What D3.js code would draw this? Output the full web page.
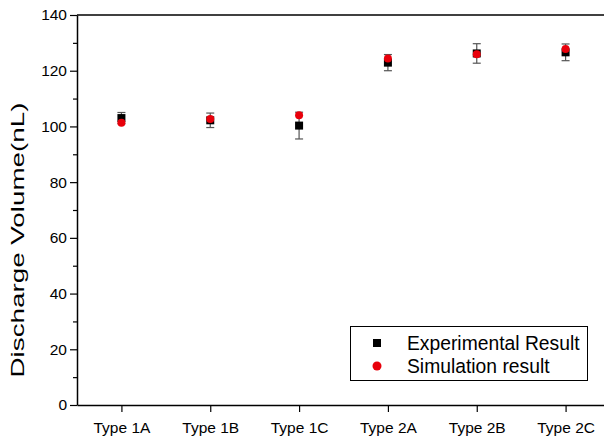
<!DOCTYPE html>
<html>
<head>
<meta charset="utf-8">
<script src="https://cdn.jsdelivr.net/npm/d3@7"></script>
<style>
  body { margin: 0; background: #fff; }
  svg { display: block; font-family: "Liberation Sans", Arial, sans-serif; }
</style>
</head>
<body>
<svg id="chart" width="604" height="436"></svg>
<script>
// ---- data ----
const categories = ["Type 1A", "Type 1B", "Type 1C", "Type 2A", "Type 2B", "Type 2C"];
const experimental = [103.0, 102.2, 100.3, 122.9, 126.2, 126.6];
const expError = [2.0, 2.6, 4.8, 2.9, 3.5, 3.0];
const simulation = [101.3, 102.7, 104.0, 124.4, 125.9, 127.8];
const yMajorTicks = [0, 20, 40, 60, 80, 100, 120, 140];
const yMinorTicks = [10, 30, 50, 70, 90, 110, 130];
const legendLabels = ["Experimental Result", "Simulation result"];

const svg = d3.select("#chart");
const plotLeft = 77, plotTop = 15, plotBottom = 405, plotRight = 610;

const x = d3.scalePoint().domain(categories).range([plotLeft, plotRight]).padding(0.5);
const y = d3.scaleLinear().domain([0, 140]).range([plotBottom, plotTop]);

// top frame line
svg.append("line")
  .attr("x1", plotLeft).attr("x2", 604)
  .attr("y1", plotTop).attr("y2", plotTop)
  .attr("stroke", "#000").attr("stroke-width", 1.5);

// y axis (major + minor ticks)
svg.append("g")
  .attr("transform", `translate(${plotLeft},0)`)
  .call(d3.axisLeft(y).tickValues(yMajorTicks).tickSize(7).tickSizeOuter(0).tickPadding(3));
svg.append("g")
  .attr("transform", `translate(${plotLeft},0)`)
  .call(d3.axisLeft(y).tickValues(yMinorTicks).tickSize(4).tickFormat(""))
  .call(g => g.select(".domain").remove());

// x axis
svg.append("g")
  .attr("transform", `translate(0,${plotBottom})`)
  .call(d3.axisBottom(x).tickSize(7).tickSizeOuter(0).tickPadding(10));

svg.selectAll(".domain").attr("stroke", "#000").attr("stroke-width", 1.5);
svg.selectAll(".tick line").attr("stroke", "#000").attr("stroke-width", 1.2);
svg.selectAll(".tick text")
  .attr("fill", "#000")
  .style("font-size", "15.5px")
  .style("font-family", "'Liberation Sans', Arial, sans-serif");

// y label
svg.append("text")
  .attr("transform", "translate(24,240) rotate(-90)")
  .attr("text-anchor", "middle")
  .attr("textLength", 275)
  .attr("lengthAdjust", "spacingAndGlyphs")
  .style("font-size", "19px")
  .text("Discharge Volume(nL)");

// error bars
const eb = svg.append("g");
categories.forEach((c, i) => {
  const cx = x(c);
  const y1 = y(experimental[i] + expError[i]);
  const y2 = y(experimental[i] - expError[i]);
  eb.append("line").attr("x1", cx).attr("x2", cx).attr("y1", y1).attr("y2", y2)
    .attr("stroke", "#555").attr("stroke-width", 1.2);
  [y1, y2].forEach(yy => eb.append("line")
    .attr("x1", cx - 4).attr("x2", cx + 4).attr("y1", yy).attr("y2", yy)
    .attr("stroke", "#555").attr("stroke-width", 1.2));
});

// experimental squares
const sq = 8;
svg.append("g").selectAll("rect")
  .data(categories)
  .join("rect")
  .attr("x", d => x(d) - sq / 2)
  .attr("y", (d, i) => y(experimental[i]) - sq / 2)
  .attr("width", sq).attr("height", sq)
  .attr("fill", "#000");

// simulation circles
svg.append("g").selectAll("circle")
  .data(categories)
  .join("circle")
  .attr("cx", d => x(d))
  .attr("cy", (d, i) => y(simulation[i]))
  .attr("r", 4)
  .attr("fill", "#e8000b");

// legend
const lg = svg.append("g");
lg.append("rect")
  .attr("x", 350.5).attr("y", 326.5).attr("width", 237).attr("height", 54)
  .attr("fill", "#fff").attr("stroke", "#000").attr("stroke-width", 1);
lg.append("rect").attr("x", 377 - 4).attr("y", 343 - 4).attr("width", 8).attr("height", 8).attr("fill", "#000");
lg.append("circle").attr("cx", 377).attr("cy", 366).attr("r", 4.5).attr("fill", "#e8000b");
legendLabels.forEach((t, i) => {
  lg.append("text")
    .attr("x", 407).attr("y", 349.5 + i * 23)
    .style("font-size", "19.3px")
    .text(t);
});
</script>
</body>
</html>
